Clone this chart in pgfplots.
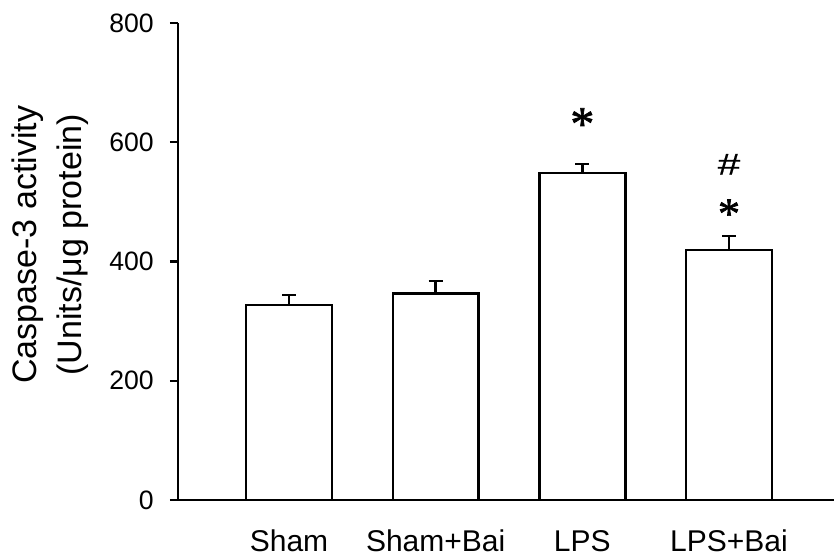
\documentclass[border=0pt]{standalone}
\usepackage{pgfplots}
\pgfplotsset{compat=1.18}
\usepackage{fontspec}
\setmainfont{Liberation Sans}
\newfontfamily\starfont{Liberation Serif}[FakeBold=1.5]
\newfontfamily\hashfont{Liberation Sans}[FakeStretch=1.35, FakeBold=0.6]
\begin{document}
\begin{tikzpicture}
\begin{axis}[
  scale only axis, width=328pt, height=238.5pt,
  xmin=-0.757, xmax=3.716, ymin=0, ymax=800,
  axis lines=left,
  axis line style={-, line width=1.4pt, black},
  ybar, bar width=0.586,
  ytick={0,200,400,600,800},
  xtick={0,1,2,3},
  xticklabels={Sham,Sham+Bai,LPS,LPS+Bai},
  tick align=outside,
  major tick length=4pt,
  ytick style={line width=1.2pt, black},
  xtick style={draw=none},
  /pgf/number format/assume math mode=true,
  yticklabel style={font=\fontsize{13.3}{15}\selectfont, xshift=-4.6pt},
  xticklabel style={font=\fontsize{15}{17}\selectfont, anchor=base, yshift=-22pt},
  ylabel={Caspase-3 activity\\(Units/μg protein)},
  ylabel style={align=center, font=\fontsize{17}{22.5}\selectfont, at={(rel axis cs:-0.195,0.535)}, anchor=center},
]
\addplot[ybar, bar width=0.586, fill=white, draw=black, line width=1.2pt,
  error bars/.cd, y dir=plus, y explicit,
  error bar style={line width=1.2pt, black},
  error mark options={rotate=90, mark size=3.5pt, line width=1.2pt, black}]
  coordinates {(0,327) +- (0,17) (1,346) +- (0,21) (2,548) +- (0,16) (3,419) +- (0,24)};
\coordinate (O) at (rel axis cs:0,0);
\node[font=\starfont\fontsize{24}{24}\selectfont, yshift=-4pt] at (axis cs:2,644) {*};
\node[font=\starfont\fontsize{22}{22}\selectfont, yshift=-3.6pt] at (axis cs:3,492) {*};
\node[font=\hashfont\fontsize{15}{16}\selectfont] at (axis cs:3,563) {\#};
\end{axis}
\pgfresetboundingbox
\path (O) ++(-89pt,-30pt) rectangle ++(417pt,280pt);
\end{tikzpicture}
\end{document}
